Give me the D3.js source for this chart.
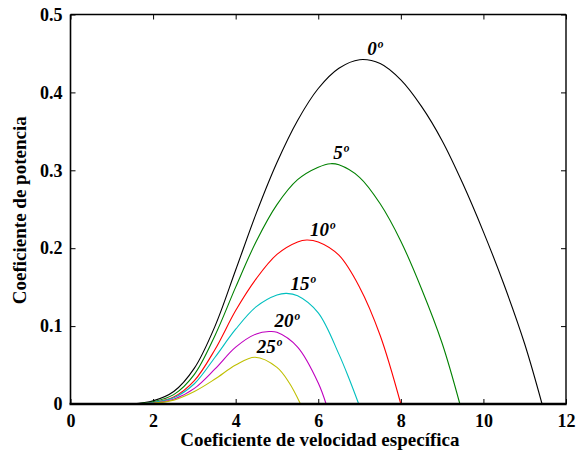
<!DOCTYPE html>
<html>
<head>
<meta charset="utf-8">
<script src="https://cdn.jsdelivr.net/npm/d3@7"></script>
<style>
  body { margin: 0; background: #fff; }
  svg text { font-family: "Liberation Serif", "Times New Roman", Times, serif !important; font-weight: bold; }
</style>
</head>
<body>
<div id="chart"></div>
<script>
// Cp vs lambda, one curve per pitch angle
const curve0 = [[1.5,0],[2,0.004],[2.5,0.016],[3,0.046],[3.5,0.100],[4,0.172],[4.5,0.245],[5,0.310],[5.5,0.364],[6,0.405],[6.5,0.431],[7,0.442],[7.5,0.437],[8,0.416],[8.5,0.382],[9,0.338],[9.5,0.283],[10,0.221],[10.5,0.153],[11,0.077],[11.42,0]];
const curve5 = [[1.5,0],[2,0.003],[2.5,0.012],[3,0.038],[3.5,0.088],[4,0.150],[4.5,0.209],[5,0.256],[5.5,0.288],[6,0.304],[6.3,0.3085],[6.5,0.307],[7,0.291],[7.5,0.257],[8,0.209],[8.5,0.148],[9,0.078],[9.43,0]];
const curve10 = [[1.5,0],[2,0.002],[2.5,0.009],[3,0.030],[3.5,0.070],[4,0.120],[4.5,0.161],[5,0.192],[5.5,0.208],[5.72,0.2105],[6,0.208],[6.5,0.191],[7,0.150],[7.5,0.088],[8,0]];
const curve15 = [[1.5,0],[2,0.002],[2.5,0.008],[3,0.026],[3.5,0.060],[4,0.096],[4.5,0.125],[5,0.140],[5.23,0.142],[5.5,0.139],[6,0.117],[6.5,0.064],[6.75,0.032],[6.98,0]];
const curve20 = [[1.5,0],[2,0.001],[2.5,0.006],[3,0.020],[3.5,0.045],[4,0.073],[4.5,0.090],[4.81,0.093],[5,0.092],[5.5,0.073],[6,0.027],[6.19,0]];
const curve25 = [[1.5,0],[2,0.001],[2.5,0.005],[3,0.016],[3.5,0.032],[4,0.050],[4.47,0.060],[5,0.047],[5.3,0.027],[5.57,0]];

const angleLabels = ["0º", "5º", "10º", "15º", "20º", "25º"];
const curveColors = ["#000000", "#008000", "#ff0000", "#00bfbf", "#bf00bf", "#bfbf00"];
// label anchor in data units (centre x, baseline y)
const labelX = [7.37, 6.55, 6.1, 5.63, 5.24, 4.81];
const labelY = [0.448, 0.314, 0.216, 0.146, 0.099, 0.066];

const xTicks = [0, 2, 4, 6, 8, 10, 12];
const yTicks = [0, 0.1, 0.2, 0.3, 0.4, 0.5];

const serif = '"Liberation Serif", "Times New Roman", Times, serif';

const margin = {top: 14.5, right: 18, bottom: 50, left: 70.5},
    width = 584 - margin.left - margin.right,
    height = 454 - margin.top - margin.bottom;

const svg = d3.select("#chart")
    .append("svg")
    .attr("width", 584)
    .attr("height", 454)
    .append("g")
    .attr("transform", `translate(${margin.left},${margin.top})`);

const x = d3.scaleLinear().domain([0, 12]).range([0, width]);
const y = d3.scaleLinear().domain([0, 0.5]).range([height, 0]);

const fmtY = d => d === 0 ? "0" : d3.format(".1f")(d);

// bottom axis with labels, inward ticks
svg.append("g")
    .attr("transform", `translate(0,${height})`)
    .call(d3.axisBottom(x).tickValues(xTicks).tickSize(-5).tickPadding(10).tickSizeOuter(0))
    .call(g => g.attr("font-family", serif))
    .call(g => g.select(".domain").remove())
    .call(g => g.selectAll("text").attr("font-size", 18).attr("fill", "#000"));

svg.append("g")
    .call(d3.axisLeft(y).tickValues(yTicks).tickSize(-5).tickPadding(8).tickFormat(fmtY).tickSizeOuter(0))
    .call(g => g.attr("font-family", serif))
    .call(g => g.select(".domain").remove())
    .call(g => g.selectAll("text").attr("font-size", 18).attr("fill", "#000"));

// mirrored ticks on top and right
svg.append("g")
    .call(d3.axisTop(x).tickValues(xTicks).tickSize(-5).tickFormat("").tickSizeOuter(0))
    .call(g => g.select(".domain").remove());
svg.append("g")
    .attr("transform", `translate(${width},0)`)
    .call(d3.axisRight(y).tickValues(yTicks).tickSize(-5).tickFormat("").tickSizeOuter(0))
    .call(g => g.select(".domain").remove());

// curves
const line = d3.line()
    .x(d => x(d[0]))
    .y(d => y(d[1]))
    .curve(d3.curveCatmullRom.alpha(0.5));

const allCurves = [curve0, curve5, curve10, curve15, curve20, curve25];
allCurves.forEach((c, i) => {
    svg.append("path")
        .datum(c)
        .attr("fill", "none")
        .attr("stroke", curveColors[i])
        .attr("stroke-width", 1.1)
        .attr("d", line);
});

// box
svg.append("line").attr("x1", 0).attr("x2", width).attr("y1", 0).attr("y2", 0)
    .attr("stroke", "#000").attr("stroke-width", 1.4);
svg.append("line").attr("x1", width).attr("x2", width).attr("y1", 0).attr("y2", height)
    .attr("stroke", "#000").attr("stroke-width", 1.4);
svg.append("line").attr("x1", 0).attr("x2", 0).attr("y1", 0).attr("y2", height)
    .attr("stroke", "#000").attr("stroke-width", 1.6);
svg.append("line").attr("x1", -1).attr("x2", width + 0.7).attr("y1", height).attr("y2", height)
    .attr("stroke", "#000").attr("stroke-width", 2.5);

// angle labels
angleLabels.forEach((t, i) => {
    svg.append("text")
        .attr("x", x(labelX[i]))
        .attr("y", y(labelY[i]))
        .attr("text-anchor", "middle")
        .attr("font-family", serif)
        .attr("font-size", 19)
        .attr("font-style", "italic")
        .text(t);
});

// axis titles
svg.append("text")
    .attr("x", x(6.04))
    .attr("y", height + 42)
    .attr("text-anchor", "middle")
    .attr("font-family", serif)
    .attr("font-size", 19)
    .text("Coeficiente de velocidad específica");

svg.append("text")
    .attr("transform", `translate(${-45},${y(0.25) + 1}) rotate(-90)`)
    .attr("text-anchor", "middle")
    .attr("font-family", serif)
    .attr("font-size", 19)
    .text("Coeficiente de potencia");
</script>
</body>
</html>
